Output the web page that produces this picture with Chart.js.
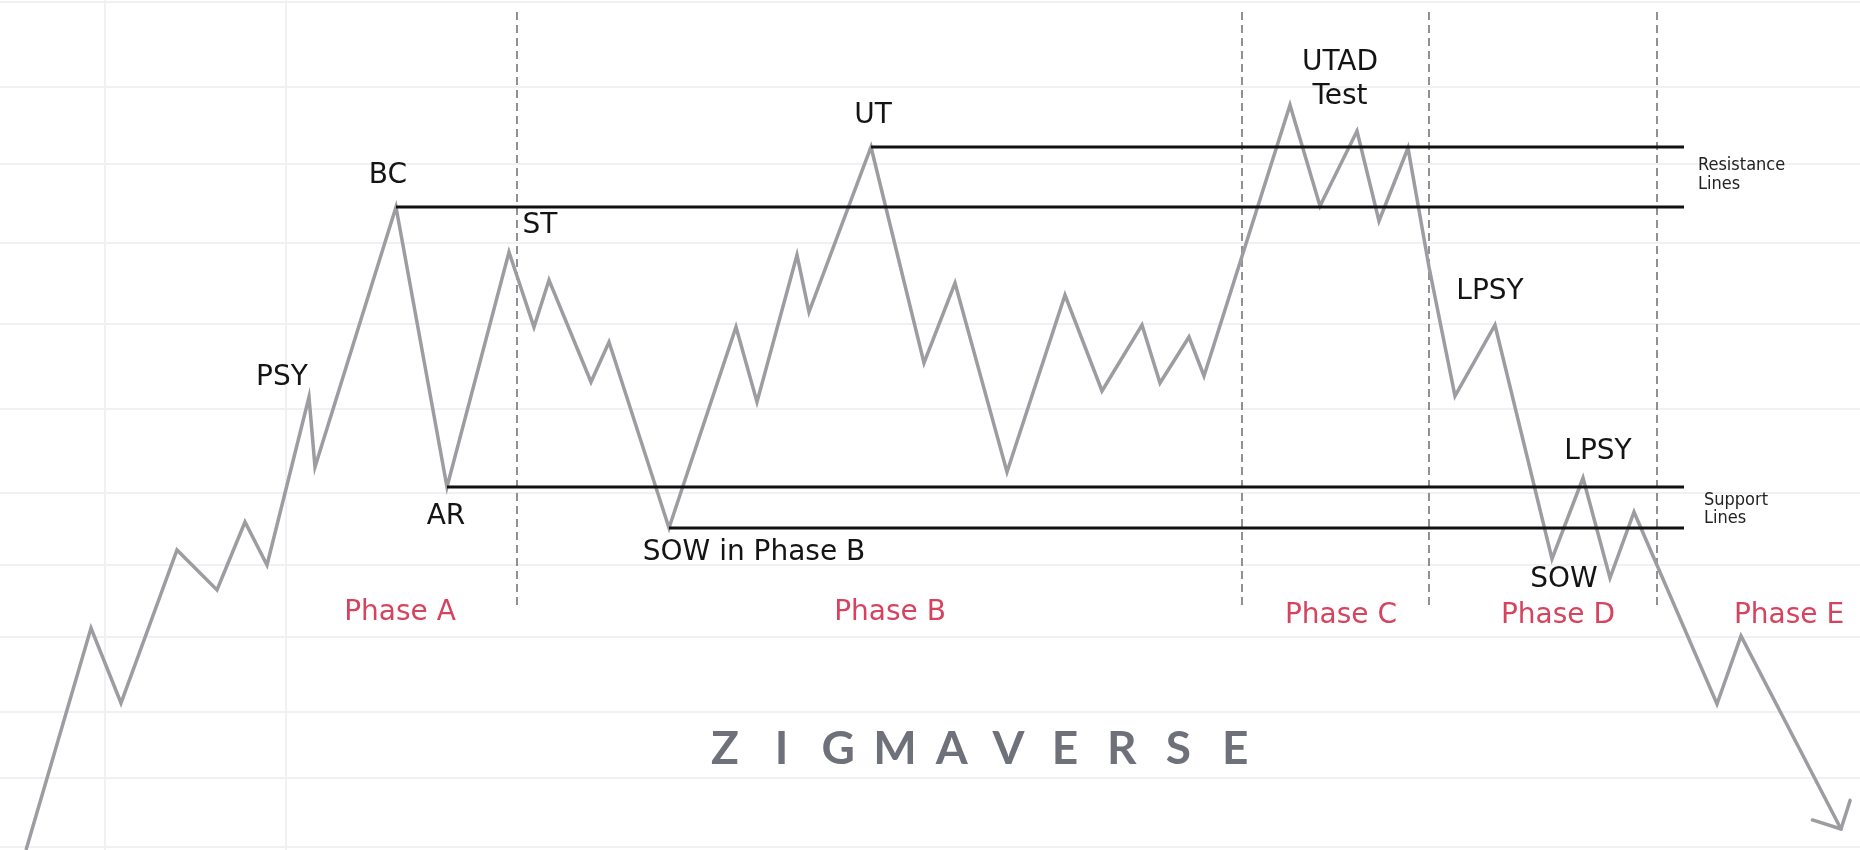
<!DOCTYPE html>
<html>
<head>
<meta charset="utf-8">
<script src="https://cdn.jsdelivr.net/npm/chart.js@4.4.0/dist/chart.umd.min.js"></script>
<style>
  html, body { margin: 0; padding: 0; background: #ffffff; }
  #wrap { position: relative; width: 1860px; height: 850px; }
</style>
</head>
<body>
<div id="wrap"><canvas id="chart"></canvas></div>
<script>
// price path (x = time, y = price)
const priceX = [26, 91, 121, 177, 217, 245, 267, 309, 315, 396, 447, 509, 534, 549, 591, 609,
  669, 736, 757, 797, 809, 871, 924, 955, 1007, 1065, 1102, 1142, 1160, 1189, 1204,
  1290, 1320, 1357, 1379, 1408, 1429, 1455, 1495, 1552, 1583, 1610, 1634, 1717, 1741, 1841];
const priceY = [0, 222, 147, 300, 260, 328, 285, 453, 383, 643, 363, 598, 523, 570, 468, 508,
  322, 523, 448, 595, 538, 703, 487, 567, 378, 555, 459, 525, 467, 513, 474,
  745, 644, 719, 629, 702, 583, 454, 525, 291, 372, 272, 338, 146, 214, 21];

// resistance / support levels: start at the pivot, run to levelEndX
const levelNames = ["BC", "UT", "AR", "SOW"];
const levelStartX = [396, 871, 447, 669];
const levelY = [643, 703, 363, 322];
const levelEndX = 1684;

// dashed phase dividers
const phaseDividerX = [517, 1242, 1429, 1657];
const dividerTop = 838;
const dividerBottom = 242;

// faint background grid
const gridY = [848, 763, 686, 607, 526, 441, 357, 285, 213, 138, 72, 3];
const gridX = [105, 286];

// event labels
const eventText = ["PSY", "BC", "ST", "AR", "UT", "UTAD", "Test", "LPSY", "SOW in Phase B", "LPSY", "SOW"];
const eventX = [282, 388, 540, 446, 873, 1340, 1340, 1490, 754, 1598, 1564];
const eventY = [472, 674, 624, 333, 734, 787, 753, 558, 297, 398, 270];

// phase labels
const phaseText = ["Phase A", "Phase B", "Phase C", "Phase D", "Phase E"];
const phaseX = [400, 890, 1341, 1558, 1789];
const phaseY = [237, 237, 234, 234, 234];

// side notes
const noteText = [["Resistance", "Lines"], ["Support", "Lines"]];
const noteX = [1698, 1704];
const noteY = [[685, 666], [350, 332]];

const watermark = "ZIGMAVERSE";

const datasets = [];
datasets.push({
  label: "Price",
  data: priceX.map((x, i) => ({ x: x, y: priceY[i] })),
  borderColor: "#9c9ca1",
  borderWidth: 3.5,
  borderJoinStyle: "miter",
  pointRadius: 0,
  tension: 0,
  order: 1
});
levelNames.forEach((name, i) => {
  datasets.push({
    label: name,
    data: [{ x: levelStartX[i], y: levelY[i] }, { x: levelEndX, y: levelY[i] }],
    borderColor: "#111111",
    borderWidth: 3,
    pointRadius: 0,
    order: 0
  });
});
phaseDividerX.forEach((x, i) => {
  datasets.push({
    label: "divider" + i,
    data: [{ x: x, y: dividerTop }, { x: x, y: dividerBottom }],
    borderColor: "#6d6d72",
    borderWidth: 1.5,
    borderDash: [8, 5],
    pointRadius: 0,
    order: 2
  });
});

// arrow head on the end of the price path + all text
const textPlugin = {
  id: "wyckoffText",
  afterDatasetsDraw(chart) {
    const ctx = chart.ctx;
    const xs = chart.scales.x, ys = chart.scales.y;

    // arrow head from the last segment direction
    const pts = chart.getDatasetMeta(0).data;
    const tip = pts[pts.length - 1], prev = pts[pts.length - 2];
    const ang = Math.atan2(prev.y - tip.y, prev.x - tip.x);
    ctx.save();
    ctx.strokeStyle = "#9c9ca1";
    ctx.lineWidth = 3.5;
    ctx.lineCap = "round";
    [-Math.PI / 4, Math.PI / 4].forEach(d => {
      ctx.beginPath();
      ctx.moveTo(tip.x, tip.y);
      ctx.lineTo(tip.x + 30 * Math.cos(ang + d), tip.y + 30 * Math.sin(ang + d));
      ctx.stroke();
    });
    ctx.restore();

    ctx.save();
    ctx.textAlign = "center";
    ctx.textBaseline = "middle";
    ctx.fillStyle = "#141414";
    ctx.font = "28px 'DejaVu Sans'";
    eventText.forEach((t, i) => {
      ctx.fillText(t, xs.getPixelForValue(eventX[i]), ys.getPixelForValue(eventY[i]));
    });

    ctx.fillStyle = "#d6435e";
    ctx.font = "28px 'DejaVu Sans'";
    phaseText.forEach((t, i) => {
      ctx.fillText(t, xs.getPixelForValue(phaseX[i]), ys.getPixelForValue(phaseY[i]));
    });

    ctx.fillStyle = "#222222";
    ctx.textAlign = "left";
    ctx.font = "18px 'DejaVu Sans Condensed', 'DejaVu Sans'";
    noteText.forEach((lines, i) => {
      lines.forEach((t, j) => {
        ctx.fillText(t, xs.getPixelForValue(noteX[i]), ys.getPixelForValue(noteY[i][j]));
      });
    });

    // spaced-out watermark
    ctx.textAlign = "center";
    ctx.fillStyle = "#6f717a";
    ctx.font = "bold 46px Lato, 'DejaVu Sans'";
    const cx = xs.getPixelForValue(980), cy = ys.getPixelForValue(101);
    const step = 56.7;
    const startX = cx - step * (watermark.length - 1) / 2;
    watermark.split("").forEach((ch, i) => {
      ctx.fillText(ch, startX + i * step, cy);
    });
    ctx.restore();
  }
};

new Chart(document.getElementById("chart"), {
  type: "line",
  data: { datasets: datasets },
  options: {
    responsive: true,
    maintainAspectRatio: false,
    animation: false,
    layout: { padding: 0 },
    plugins: { legend: { display: false }, tooltip: { enabled: false } },
    scales: {
      x: {
        type: "linear",
        min: 0,
        max: 1860,
        afterBuildTicks: s => { s.ticks = gridX.map(v => ({ value: v })); },
        ticks: { display: false },
        border: { display: false },
        grid: { color: "#f1f1f4", lineWidth: 2, drawTicks: false }
      },
      y: {
        type: "linear",
        min: 0,
        max: 850,
        afterBuildTicks: s => { s.ticks = gridY.map(v => ({ value: v })); },
        ticks: { display: false },
        border: { display: false },
        grid: { color: "#f1f1f4", lineWidth: 2, drawTicks: false }
      }
    }
  },
  plugins: [textPlugin]
});
</script>
</body>
</html>
